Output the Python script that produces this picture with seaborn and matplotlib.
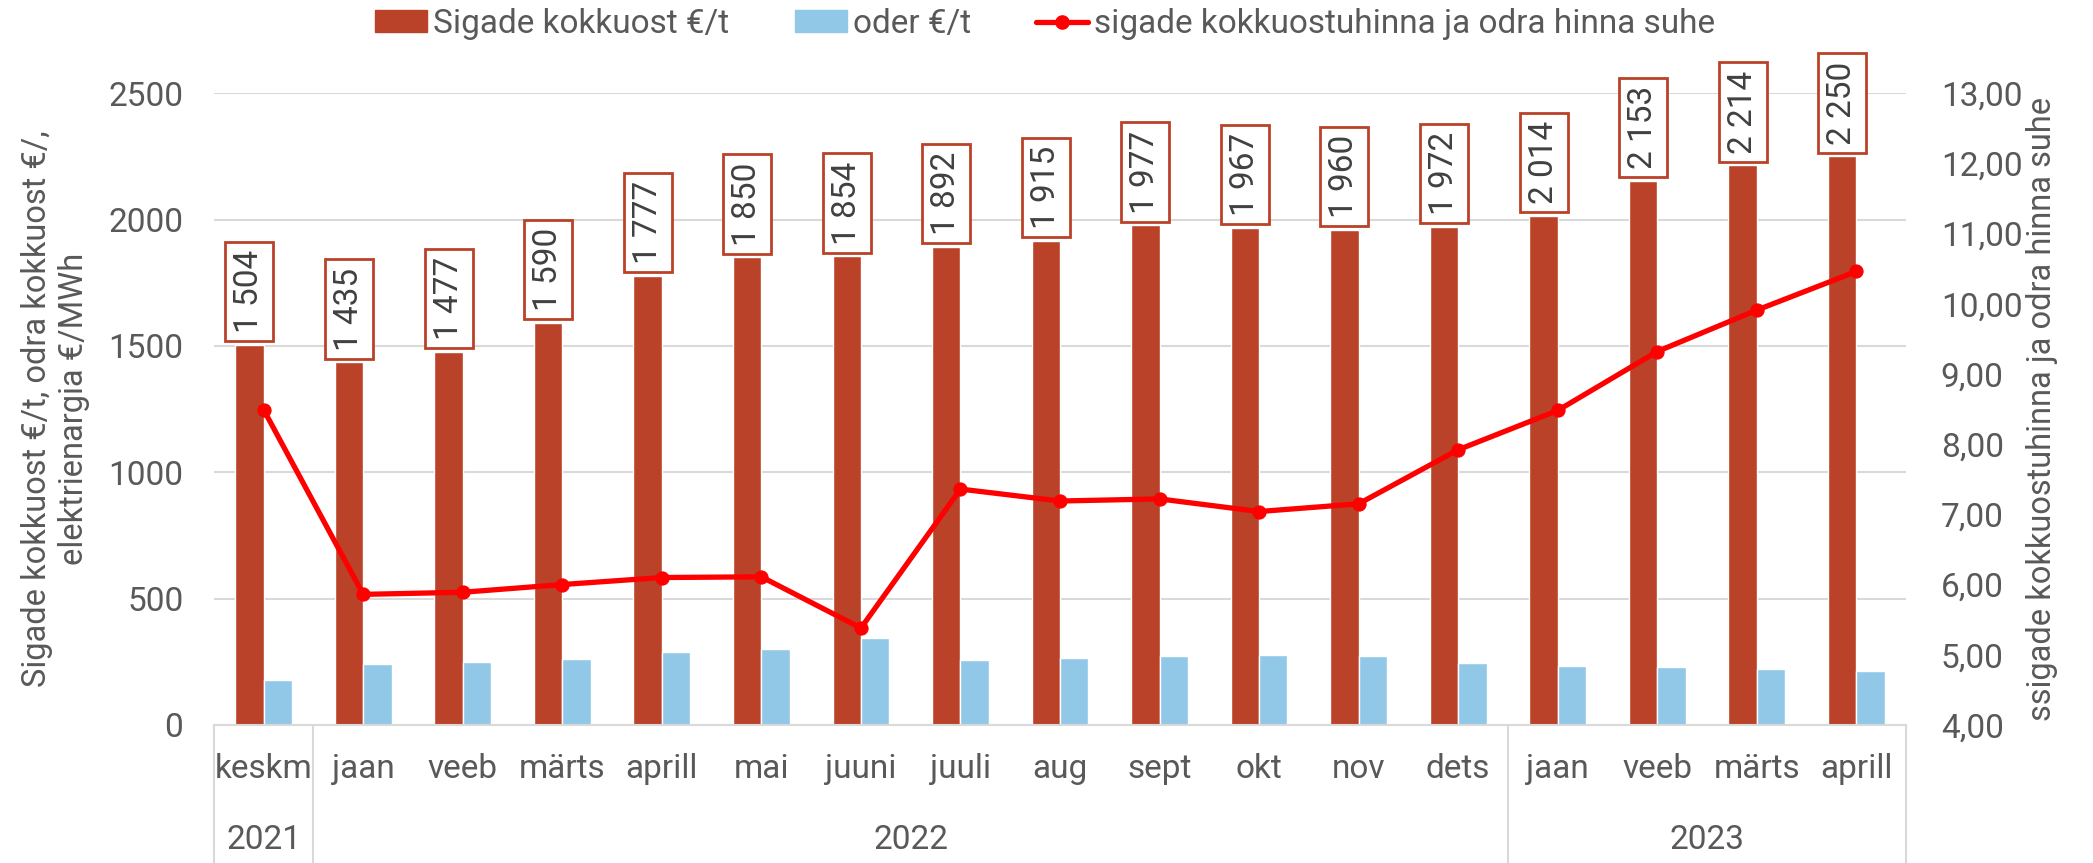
import matplotlib
matplotlib.use('Agg')
import matplotlib.pyplot as plt
import seaborn as sb, numpy as np, pandas as pd
from matplotlib.ticker import FuncFormatter
from matplotlib.lines import Line2D
from matplotlib.patches import Patch
import matplotlib.transforms as mtrans

# andmed
months = ['keskm', 'jaan', 'veeb', 'märts', 'aprill', 'mai', 'juuni', 'juuli', 'aug',
          'sept', 'okt', 'nov', 'dets', 'jaan', 'veeb', 'märts', 'aprill']
years = ['2021', '2022', '2023']
year_first = [0, 1, 13]
year_last = [0, 12, 16]
pig = [1504, 1435, 1477, 1590, 1777, 1850, 1854, 1892, 1915, 1977, 1967, 1960, 1972,
       2014, 2153, 2214, 2250]
barley = [176, 243, 249, 262, 288, 300, 343, 255, 265, 271, 278, 272, 247, 235, 229, 221, 213]
ratio = [8.49, 5.86, 5.89, 6.00, 6.10, 6.11, 5.38, 7.36, 7.19, 7.22, 7.04, 7.15, 7.92,
         8.48, 9.32, 9.91, 10.46]

s_pig = 'Sigade kokkuost €/t'
s_bar = 'oder €/t'
s_rat = 'sigade kokkuostuhinna ja odra hinna suhe'

c_pig = '#BA4229'
c_bar = '#92C8E7'
c_line = '#FF0000'
grey = '#595959'

sb.set_style('white')
plt.rcParams['font.family'] = ['Roboto', 'DejaVu Sans']

pos = list(range(len(months)))
df = pd.DataFrame({'pos': pos * 2,
                   'seeria': [s_pig] * len(pos) + [s_bar] * len(pos),
                   'value': pig + barley})

fig = plt.figure(figsize=(20.93, 8.63), dpi=100)
ax = fig.add_axes([0.1022, 0.16, 0.8085, 0.732])
sb.barplot(data=df, x='pos', y='value', hue='seeria', palette=[c_pig, c_bar],
           width=0.57, saturation=1, legend=False, ax=ax)
ax.set_ylim(0, 2500)
ax.set_xlim(-0.5, len(months) - 0.5)
ax.set_yticks([0, 500, 1000, 1500, 2000, 2500])
ax.yaxis.grid(True, color='#D9D9D9', lw=1.5)
ax.set_axisbelow(True)
for s in ['left', 'right', 'top']:
    ax.spines[s].set_visible(False)
ax.spines['bottom'].set_color('#D9D9D9')
ax.spines['bottom'].set_linewidth(1.5)
ax.tick_params(axis='y', length=0, pad=22, labelsize=24, labelcolor=grey)
ax.set_xticks(pos)
ax.set_xticklabels(months)
ax.tick_params(axis='x', length=0, pad=20, labelsize=24, labelcolor=grey)
ax.set_xlabel('')
ax.set_ylabel('Sigade kokkuost €/t, odra kokkuost €/,\nelektrienargia €/MWh',
              fontsize=23.5, color=grey, linespacing=1.2)
ax.yaxis.set_label_coords(-0.073, 0.5)

# väärtused kastides
for i, v in enumerate(pig):
    ax.annotate(f'{v:,}'.replace(',', ' '), (i - 0.1425, v), xytext=(0, 8.5),
                textcoords='offset points', rotation=90, ha='center', va='bottom',
                fontsize=24, color='#404040',
                bbox=dict(boxstyle='square,pad=0.24', fc='white', ec=c_pig, lw=2),
                annotation_clip=False)

# aastad ja eraldusjooned
tr = mtrans.blended_transform_factory(ax.transData, ax.transAxes)
for b in [-0.5, 0.5, 12.5, 16.5]:
    ax.plot([b, b], [0, -0.22], color='#D9D9D9', lw=1.5, transform=tr, clip_on=False)
for y, a, b in zip(years, year_first, year_last):
    ax.text((a + b) / 2, -0.182, y, transform=tr, ha='center', va='center',
            fontsize=24, color=grey)

ax2 = ax.twinx()
sb.lineplot(x=pos, y=ratio, ax=ax2, color=c_line, lw=3.8, marker='o', markersize=9.5,
            markeredgecolor=c_line)
ax2.set_ylim(4, 13)
ax2.set_yticks(range(4, 14))
ax2.yaxis.set_major_formatter(FuncFormatter(lambda v, p: f'{v:.2f}'.replace('.', ',')))
for s in ['left', 'right', 'top', 'bottom']:
    ax2.spines[s].set_visible(False)
ax2.tick_params(axis='y', length=0, pad=25, labelsize=24, labelcolor=grey)
ax2.set_ylabel('ssigade kokkuostuhinna ja odra hinna suhe', fontsize=23.5, color=grey)
ax2.yaxis.set_label_coords(1.071, 0.5)

handles = [Patch(color=c_pig, label=s_pig), Patch(color=c_bar, label=s_bar),
           Line2D([], [], color=c_line, lw=3.8, marker='o', markersize=9.5, label=s_rat)]
fig.legend(handles=handles, loc='center', bbox_to_anchor=(0.4995, 0.972), ncol=3,
           frameon=False, fontsize=24, labelcolor=grey, handlelength=1.56,
           handleheight=0.64, columnspacing=1.96, handletextpad=0.18)

fig.savefig('out.png', dpi=100)
